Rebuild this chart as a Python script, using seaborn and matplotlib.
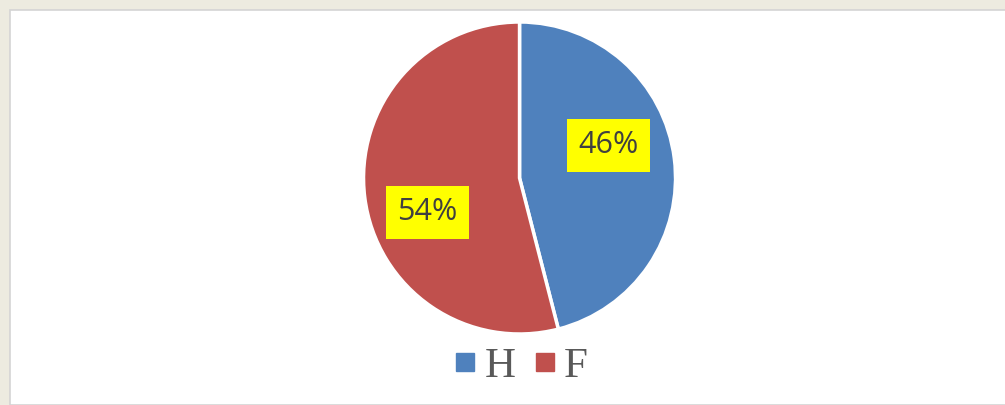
import matplotlib.pyplot as plt
import seaborn as sns
from matplotlib.lines import Line2D
from matplotlib.patches import Rectangle

# data
categories = ["H", "F"]
shares = [46, 54]
colors = ["#4F81BD", "#C0504D"]

sns.set_theme(style="white")

fig = plt.figure(figsize=(10.05, 4.05), dpi=100)
fig.patch.set_facecolor("#EDEBE0")

# white slide panel
panel = Rectangle((10 / 1005, 0), 1, 395 / 405, transform=fig.transFigure,
                  facecolor="white", edgecolor="#D4D4D4", linewidth=1.2, zorder=-5)
fig.patches.append(panel)

ax = fig.add_axes([0.3612, 0.1753, 0.3115, 0.7704])
ax.patch.set_visible(False)
wedges, texts, autotexts = ax.pie(
    shares, colors=colors, startangle=90, counterclock=False,
    autopct="%1.0f%%", pctdistance=0.61,
    wedgeprops=dict(edgecolor="white", linewidth=2.5),
    textprops=dict(color="#404040", fontsize=22, family=["Open Sans", "DejaVu Sans"]),
)
ax.set_xlim(-1, 1)
ax.set_ylim(-1, 1)
ax.set_aspect("equal")

# move labels to where they sit in the original
label_pos = [(0.57, 0.21), (-0.59, -0.22)]
for t, pos in zip(autotexts, label_pos):
    t.set_position(pos)
    t.set_bbox(dict(facecolor="#FFFF00", edgecolor="none", boxstyle="square,pad=0.38"))

handles = [Line2D([], [], marker="s", linestyle="none", markersize=12.5,
                  markerfacecolor=c, markeredgecolor=c) for c in colors]
fig.legend(handles, categories, loc="center", bbox_to_anchor=(0.519, 0.095),
           ncol=2, frameon=False, handlelength=0.45, handletextpad=0.22,
           columnspacing=0.45, borderaxespad=0,
           prop=dict(family="Liberation Serif", size=31), labelcolor="#595959")

fig.savefig("out.png", dpi=100, facecolor=fig.get_facecolor())
